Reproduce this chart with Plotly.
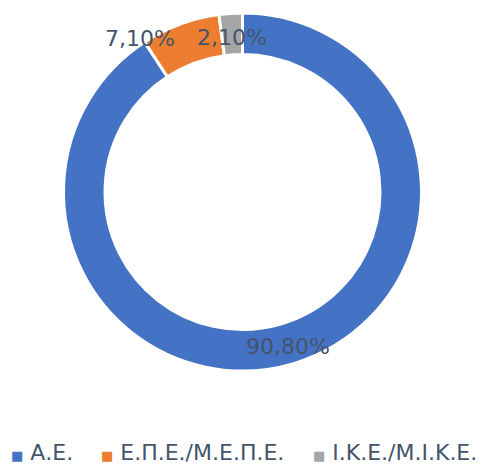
import math
import plotly.graph_objects as go

# ---- data ----
categories = ["Α.Ε.", "Ε.Π.Ε./Μ.Ε.Π.Ε.", "Ι.Κ.Ε./Μ.Ι.Κ.Ε."]
values = [90.8, 7.1, 2.1]
label_texts = ["90,80%", "7,10%", "2,10%"]

# ---- style ----
colors = ["#4472C4", "#ED7D31", "#A5A5A5"]
text_color = "#44546A"
font_family = "DejaVu Sans, Verdana, sans-serif"
W, H = 485, 466
M_T, M_B = 13, 95
HOLE = 0.768
label_nudge_px = [0, -47, 0]   # manual label offsets (like Excel's moved label)
label_dy_px = [-3, 5, -3]

fig = go.Figure(go.Pie(
    labels=categories, values=values, hole=HOLE, sort=False,
    direction="clockwise", rotation=0,
    marker=dict(colors=colors, line=dict(color="white", width=3)),
    textinfo="none", hoverinfo="label+percent", showlegend=False,
))

plot_h = H - M_T - M_B
R = plot_h / 2.0
r_mid = R * (1 + HOLE) / 2.0
total = sum(values)
cum = 0.0
annotations = []
for i, v in enumerate(values):
    mid = (cum + v / 2.0) / total * 2 * math.pi
    cum += v
    dx = r_mid * math.sin(mid) + label_nudge_px[i]
    dy = r_mid * math.cos(mid) + label_dy_px[i]
    annotations.append(dict(
        x=0.5 + dx / W, y=0.5 + dy / plot_h, xref="paper", yref="paper",
        text=label_texts[i], showarrow=False, xanchor="center", yanchor="middle",
        font=dict(family=font_family, size=22, color=text_color),
    ))

# custom legend
legend_x_px = [9, 99, 311]
legend_y_px = 452
for i, c in enumerate(categories):
    annotations.append(dict(
        x=legend_x_px[i] / W, y=(H - M_B - legend_y_px) / plot_h,
        xref="paper", yref="paper", xanchor="left", yanchor="middle",
        showarrow=False,
        text=f"<span style='color:{colors[i]};font-size:13px'>■</span> {c}",
        font=dict(family=font_family, size=22, color=text_color),
    ))

fig.update_layout(
    width=W, height=H,
    margin=dict(l=0, r=0, t=M_T, b=M_B),
    paper_bgcolor="white", plot_bgcolor="white",
    annotations=annotations,
)

fig.write_html("out.html", config={"displayModeBar": False},
               post_script="document.body.style.margin='0';document.body.style.overflow='hidden';")
